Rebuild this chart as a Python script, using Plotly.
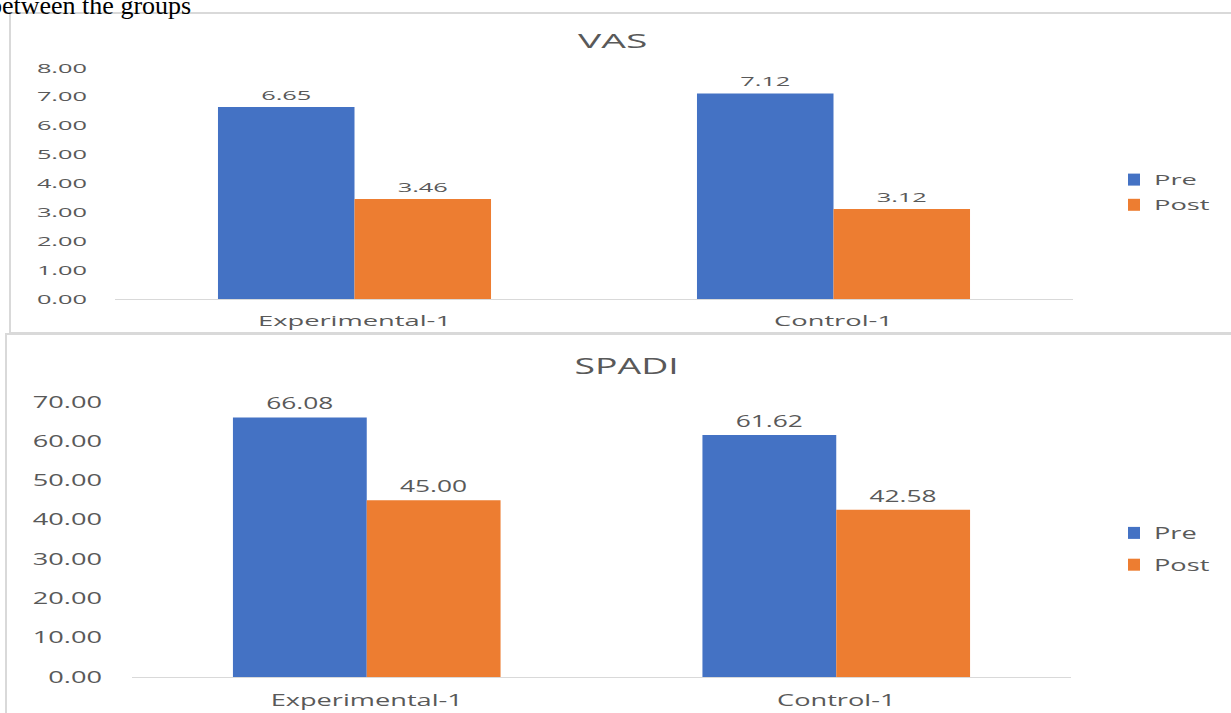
import plotly.graph_objects as go

# ---- data ----
groups = ["Experimental-1", "Control-1"]
series_names = ["Pre", "Post"]
vas_pre = [6.65, 7.12]
vas_post = [3.46, 3.12]
spadi_pre = [66.08, 61.62]
spadi_post = [45.00, 42.58]
vas_ticks = [0, 1, 2, 3, 4, 5, 6, 7, 8]
spadi_ticks = [0, 10, 20, 30, 40, 50, 60, 70]

W, H = 1231, 713
BLUE = "#4472C4"
ORANGE = "#ED7D31"
GREY_TXT = "#595959"
GREY_LINE = "#D9D9D9"
FONT = "Open Sans"


def fx(p):
    return p / W


def fy(p):
    return 1 - p / H


fig = go.Figure()

panels = [
    dict(vals=(vas_pre, vas_post), xa="x", ya="y", legend="legend", lab=13),
    dict(vals=(spadi_pre, spadi_post), xa="x2", ya="y2", legend="legend2", lab=15.5),
]
for p in panels:
    for name, vals, col in zip(series_names, p["vals"], [BLUE, ORANGE]):
        fig.add_trace(go.Bar(
            x=groups, y=vals, name=name, marker=dict(color=col, line=dict(width=0)),
            xaxis=p["xa"], yaxis=p["ya"], legend=p["legend"], legendgroup=name,
            texttemplate="%{y:.2f}", textposition="outside", cliponaxis=False,
            textfont=dict(family=FONT, size=p["lab"], color=GREY_TXT),
            hoverinfo="skip",
        ))

axis_common = dict(showgrid=False, zeroline=False, fixedrange=True, automargin=False)

fig.update_layout(
    width=W, height=H,
    margin=dict(l=0, r=0, t=0, b=0, pad=0, autoexpand=False),
    paper_bgcolor="white", plot_bgcolor="white",
    barmode="group", bargap=0.43, bargroupgap=0,
    font=dict(family=FONT, color=GREY_TXT),
    xaxis=dict(domain=[fx(115), fx(1073)], anchor="y", showline=True,
               linecolor=GREY_LINE, linewidth=1, ticks="",
               tickfont=dict(size=14, color=GREY_TXT), ticklabelstandoff=9,
               **axis_common),
    yaxis=dict(domain=[fy(299), fy(68)], anchor="x", range=[0, 8],
               tickvals=vas_ticks, tickformat=".2f", ticks="", showline=False,
               tickfont=dict(size=13, color=GREY_TXT), ticklabelstandoff=27,
               **axis_common),
    xaxis2=dict(domain=[fx(132), fx(1071)], anchor="y2", showline=True,
                linecolor=GREY_LINE, linewidth=1, ticks="",
                tickfont=dict(size=16, color=GREY_TXT), ticklabelstandoff=9,
                **axis_common),
    yaxis2=dict(domain=[fy(677), fy(402)], anchor="x2", range=[0, 70],
                tickvals=spadi_ticks, tickformat=".2f", ticks="", showline=False,
                tickfont=dict(size=16, color=GREY_TXT), ticklabelstandoff=29,
                **axis_common),
    legend=dict(x=fx(1114), y=fy(164), xanchor="left", yanchor="top",
                font=dict(size=14, color=GREY_TXT), bgcolor="rgba(0,0,0,0)",
                tracegroupgap=4, traceorder="grouped"),
    legend2=dict(x=fx(1114), y=fy(516), xanchor="left", yanchor="top",
                 font=dict(size=16, color=GREY_TXT), bgcolor="rgba(0,0,0,0)",
                 tracegroupgap=8, traceorder="grouped"),
    showlegend=True,
)

# chart titles and the caption line above the charts
fig.add_annotation(text="VAS", x=fx(613), y=fy(40), xref="paper", yref="paper",
                   xanchor="center", yanchor="middle", showarrow=False,
                   font=dict(size=20, color=GREY_TXT, family=FONT))
fig.add_annotation(text="SPADI", x=fx(626), y=fy(365), xref="paper", yref="paper",
                   xanchor="center", yanchor="middle", showarrow=False,
                   font=dict(size=22, color=GREY_TXT, family=FONT))
fig.add_annotation(text="between the groups", x=fx(-13), y=fy(5), xref="paper", yref="paper",
                   xanchor="left", yanchor="middle", showarrow=False,
                   font=dict(size=26, color="black", family="Liberation Serif"))

# chart-area frames
fig.add_shape(type="rect", xref="paper", yref="paper",
              x0=fx(10), x1=fx(1260), y0=fy(333), y1=fy(13),
              line=dict(color=GREY_LINE, width=2), fillcolor="rgba(0,0,0,0)", layer="below")
fig.add_shape(type="rect", xref="paper", yref="paper",
              x0=fx(6), x1=fx(1260), y0=fy(740), y1=fy(334),
              line=dict(color=GREY_LINE, width=2), fillcolor="rgba(0,0,0,0)", layer="below")

# widen the sans-serif lettering, anchored at each label's alignment point
stretch_js = """
var gd = document.getElementById('{plot_id}');
gd.querySelectorAll('g.legend [clip-path], g.legend2 [clip-path]').forEach(function(e) {
  e.removeAttribute('clip-path');
});
gd.querySelectorAll('text').forEach(function(t) {
  if (!t.textContent) return;
  var ff = window.getComputedStyle(t).fontFamily || '';
  if (ff.indexOf('Serif') >= 0) return;
  var r = t.getBoundingClientRect();
  var s = (r.top + r.height / 2) < 333 ? 1.95 : 1.7;
  var b = t.getBBox();
  var a = t.getAttribute('text-anchor') || 'middle';
  var cx = a === 'end' ? b.x + b.width : (a === 'start' ? b.x : b.x + b.width / 2);
  var tr = t.getAttribute('transform') || '';
  t.setAttribute('transform', tr + ' translate(' + cx + ',0) scale(' + s + ',1) translate(' + (-cx) + ',0)');
});
"""

fig.write_html("out.html", post_script=stretch_js, config={"displayModeBar": False})
